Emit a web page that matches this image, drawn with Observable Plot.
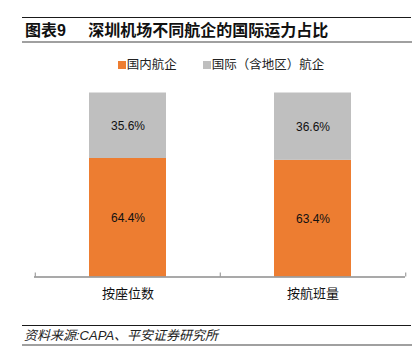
<!DOCTYPE html>
<html>
<head>
<meta charset="utf-8">
<script src="https://cdn.jsdelivr.net/npm/d3@7"></script>
<script src="https://cdn.jsdelivr.net/npm/@observablehq/plot@0.6"></script>
<style>
  html, body { margin: 0; padding: 0; background: #fff; }
  body { width: 420px; height: 354px; position: relative; overflow: hidden;
         font-family: "Liberation Sans", "Noto Sans CJK SC", sans-serif; }
  .abs { position: absolute; }
  .rule-dark { left: 22px; width: 389px; height: 0; border-top: 1.5px solid #1a1a1a; }
  .rule-gray { left: 22px; width: 390px; height: 0; border-top: 2px solid #a0a0a0; }
  #title { left: 25px; top: 22px; font-size: 16px; font-weight: bold; color: #111; white-space: pre; line-height: 18px; }
  #legend { left: 0; width: 420px; top: 57px; display: flex; justify-content: center; gap: 26px; font-size: 12.5px; color: #222; line-height: 16px; padding-left: 22px; box-sizing: border-box; }
  #legend span.sw { display: inline-block; width: 8px; height: 8px; margin-right: 1px; vertical-align: -0px; }
  #chart { left: 0; top: 80px; }
  #footer { left: 24px; top: 328px; font-size: 13px; font-style: italic; color: #222; line-height: 16px; }
</style>
</head>
<body>
<div class="abs rule-dark" style="top:17px"></div>
<div class="abs" id="title"></div>
<div class="abs rule-gray" style="top:41px"></div>
<div class="abs" id="legend"></div>
<div class="abs" id="chart"></div>
<div class="abs rule-dark" style="top:325px"></div>
<div class="abs" id="footer"></div>
<div class="abs rule-gray" style="top:344px"></div>
<script>
const titleText = "图表9     深圳机场不同航企的国际运力占比";
const footerText = "资料来源:CAPA、平安证券研究所";
const categories = ["按座位数", "按航班量"];
const seriesNames = ["国内航企", "国际（含地区）航企"];
const seriesColors = ["#ED7D31", "#BFBFBF"];
const domestic = [64.4, 63.4];
const international = [35.6, 36.6];

document.getElementById("title").textContent = titleText;
document.getElementById("footer").textContent = footerText;
const legend = document.getElementById("legend");
seriesNames.forEach((name, i) => {
  const item = document.createElement("div");
  item.innerHTML = `<span class="sw" style="background:${seriesColors[i]}"></span>${name}`;
  legend.appendChild(item);
});

const data = [];
const seriesValues = [domestic, international];
seriesNames.forEach((s, si) => {
  categories.forEach((c, ci) => data.push({category: c, series: s, value: seriesValues[si][ci]}));
});

const width = 420, height = 230;
const marginLeft = 34, marginRight = 15, marginTop = 12.5, marginBottom = 33.5;
const step = (width - marginLeft - marginRight) / categories.length;

const chart = Plot.plot({
  width, height, marginLeft, marginRight, marginTop, marginBottom,
  style: {fontFamily: '"Liberation Sans", "Noto Sans CJK SC", sans-serif', background: "transparent"},
  x: {domain: categories, paddingInner: 0.585, paddingOuter: 0.2925, label: null},
  y: {domain: [0, 100], axis: null},
  color: {domain: seriesNames, range: seriesColors},
  marks: [
    Plot.barY(data, {x: "category", y: "value", fill: "series", z: "series", order: seriesNames}),
    Plot.text(data, Plot.stackY({x: "category", y: "value", z: "series", order: seriesNames,
      text: d => d.value.toFixed(1) + "%", fontSize: 12, fill: "#111"})),
    Plot.ruleY([0], {stroke: "#8c8c8c", strokeWidth: 1.3}),
    Plot.axisX({tickSize: 0, tickPadding: 12, fontSize: 13, fill: "#111"}),
    Plot.axisX({tickSize: -4, text: null, dx: -step / 2, stroke: "#8c8c8c"}),
    Plot.axisX({ticks: categories.slice(-1), tickSize: -4, text: null, dx: step / 2, stroke: "#8c8c8c"})
  ]
});
document.getElementById("chart").appendChild(chart);
</script>
</body>
</html>
